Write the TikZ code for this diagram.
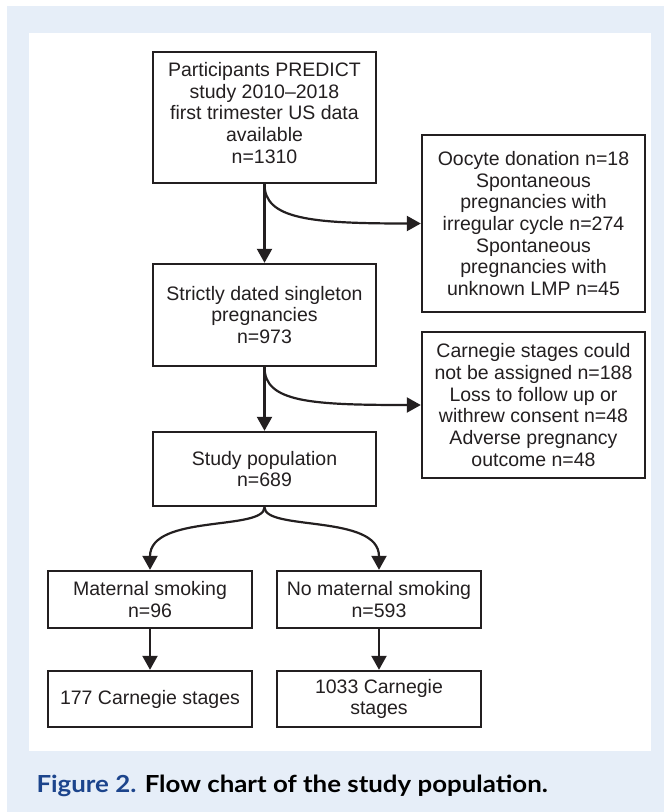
\documentclass[tikz,border=0pt]{standalone}
\usepackage{fontspec}
\setmainfont{Liberation Sans}
\newfontfamily\capfont[FakeStretch=1.1]{Lato}
\usetikzlibrary{arrows.meta}
\definecolor{panelblue}{HTML}{E6EEF8}
\definecolor{figblue}{HTML}{1C448C}
\definecolor{ink}{HTML}{231F20}
\tikzset{
  box/.style={draw=ink,line width=2.4pt,text=ink,align=center,inner sep=0pt,
    font=\fontsize{19.5}{21.7}\selectfont},
  arr/.style={draw=ink,line width=2.2pt,-{Triangle[length=14pt,width=15pt]}}
}
\begin{document}
\begin{tikzpicture}[x=1pt,y=-1pt]
      \useasboundingbox (0,0) rectangle (664,812);
      \fill[panelblue] (7,6) rectangle (664,812);
      \fill[white] (29,33) rectangle (651,751);
      % main column
      \node[box,minimum width=223pt,minimum height=131pt](P)at(264.5,117.5)
        {Participants PREDICT\\study 2010–2018\\first trimester US data\\available\\n=1310\\[-12pt]\mbox{}};
      \node[box,minimum width=223pt,minimum height=102pt](S)at(264.5,315)
        {Strictly dated singleton\\pregnancies\\n=973};
      \node[box,minimum width=223pt,minimum height=74pt](SP)at(264.5,469)
        {Study population\\n=689};
      % exclusions
      \node[box,minimum width=223pt,minimum height=177pt](E1)at(533.5,223.5)
        {Oocyte donation n=18\\Spontaneous\\pregnancies with\\irregular cycle n=274\\Spontaneous\\pregnancies with\\unknown LMP n=45};
      \node[box,minimum width=223pt,minimum height=146pt](E2)at(533.5,405)
        {Carnegie stages could\\not be assigned n=188\\Loss to follow up or\\withrew consent n=48\\Adverse pregnancy\\outcome n=48};
      % smoking groups
      \node[box,minimum width=204pt,minimum height=57pt](MS)at(150,599.5)
        {Maternal smoking\\n=96};
      \node[box,minimum width=204pt,minimum height=57pt](NS)at(379,599.5)
        {No maternal smoking\\n=593};
      \node[box,minimum width=204pt,minimum height=56pt](C1)at(150,699)
        {177 Carnegie stages};
      \node[box,minimum width=204pt,minimum height=56pt](C2)at(379,699)
        {1033 Carnegie\\stages};
      \draw[arr](P.south)--(S.north);
      \draw[arr](S.south)--(SP.north);
      \draw[arr](P.south)..controls +(0,35) and +(-110,0)..(E1.west);
      \draw[arr](S.south)..controls +(0,35) and +(-110,0)..(E2.west);
      \draw[arr](SP.south)..controls +(0,24) and +(0,-56)..(MS.north);
      \draw[arr](SP.south)..controls +(0,24) and +(0,-56)..(NS.north);
      \draw[arr](MS.south)--(C1.north);
      \draw[arr](NS.south)--(C2.north);
      \node[anchor=base west,font=\capfont\bfseries\fontsize{23.5}{27}\selectfont](cap)at(33,792)
        {\textcolor{figblue}{Figure 2.} Flow chart of the study population.};
\end{tikzpicture}
\end{document}
